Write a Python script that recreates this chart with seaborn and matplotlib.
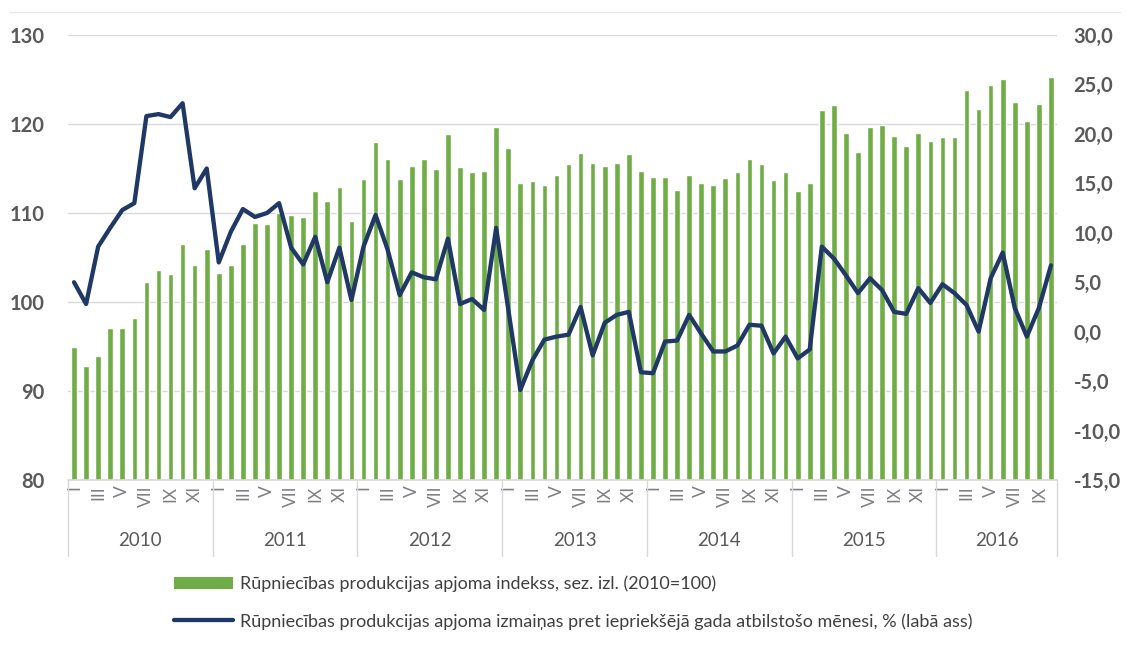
import matplotlib
matplotlib.use('Agg')
import matplotlib.pyplot as plt
from matplotlib.lines import Line2D
from matplotlib.patches import Patch
import matplotlib.transforms as mtransforms
import numpy as np
import pandas as pd
import seaborn as sns

# Data: monthly, Jan 2010 - Oct 2016
years = ['2010', '2011', '2012', '2013', '2014', '2015', '2016']
months_per_year = [12, 12, 12, 12, 12, 12, 10]
roman = ['I', '', 'III', '', 'V', '', 'VII', '', 'IX', '', 'XI', '']

index_values = [
    94.9, 92.8, 93.9, 97.1, 97.1, 98.2, 102.2, 103.6, 103.2, 106.5, 104.2, 106.0,   # 2010
    103.3, 104.2, 106.5, 108.9, 108.8, 110.0, 109.8, 109.6, 112.5, 111.3, 112.9, 109.1,  # 2011
    113.8, 118.0, 116.1, 113.8, 115.3, 116.1, 114.9, 118.9, 115.2, 114.6, 114.7, 119.7,  # 2012
    117.3, 113.4, 113.6, 113.2, 114.3, 115.5, 116.7, 115.6, 115.3, 115.6, 116.6, 114.7,  # 2013
    114.0, 114.0, 112.6, 114.3, 113.4, 113.1, 113.9, 114.6, 116.1, 115.5, 113.7, 114.6,  # 2014
    112.5, 113.4, 121.6, 122.1, 119.0, 116.9, 119.7, 119.9, 118.7, 117.5, 119.0, 118.1,  # 2015
    118.5, 118.5, 123.8, 121.7, 124.4, 125.1, 122.5, 120.3, 122.2, 125.3,                # 2016
]

yoy_change = [
    5.0, 2.8, 8.6, 10.5, 12.3, 13.0, 21.8, 22.0, 21.7, 23.1, 14.5, 16.5,   # 2010
    7.0, 10.1, 12.4, 11.6, 12.0, 13.0, 8.5, 6.8, 9.6, 5.0, 8.5, 3.2,       # 2011
    8.6, 11.8, 8.3, 3.7, 6.0, 5.5, 5.3, 9.4, 2.8, 3.3, 2.2, 10.5,          # 2012
    2.3, -5.9, -2.9, -0.8, -0.5, -0.3, 2.5, -2.4, 0.9, 1.7, 2.0, -4.1,     # 2013
    -4.2, -1.0, -0.9, 1.7, -0.2, -2.0, -2.0, -1.4, 0.7, 0.6, -2.2, -0.5,   # 2014
    -2.7, -1.8, 8.6, 7.4, 5.7, 3.9, 5.4, 4.2, 2.0, 1.8, 4.4, 2.9,          # 2015
    4.8, 3.9, 2.7, 0.0, 5.4, 8.0, 2.4, -0.5, 2.4, 6.7,                     # 2016
]

label_bar = 'Rūpniecības produkcijas apjoma indekss, sez. izl. (2010=100)'
label_line = 'Rūpniecības produkcijas apjoma izmaiņas pret iepriekšējā gada atbilstošo mēnesi, % (labā ass)'

sns.set_theme(style='white')
plt.rcParams['font.family'] = ['Lato', 'DejaVu Sans']

green = '#70AD47'
navy = '#1F3864'
txt = '#595959'

n = len(index_values)
month_labels = []
for cnt in months_per_year:
    month_labels += roman[:cnt]
df = pd.DataFrame({'pos': np.arange(n), 'index': index_values, 'yoy': yoy_change})

fig = plt.figure(figsize=(11.26, 6.47), dpi=100)
ax = fig.add_axes([0.0604, 0.2581, 0.8783, 0.6878])

sns.barplot(data=df, x='pos', y='index', color=green, width=0.47, ax=ax,
            saturation=1, native_scale=True)
ax.set_xlim(-0.5, n - 0.5)
ax.set_ylim(80, 130)
ax.set_yticks(range(80, 131, 10))
ax.yaxis.grid(True, color='#d9d9d9', linewidth=1)
ax.set_axisbelow(True)
for s in ['top', 'right', 'left']:
    ax.spines[s].set_visible(False)
ax.spines['bottom'].set_color('#d9d9d9')
ax.set_xlabel('')
ax.set_ylabel('')
ax.set_xticks(np.arange(n))
ax.set_xticklabels(month_labels, rotation=90, fontsize=12.5, color='#7f7f7f', va='top')
ax.tick_params(axis='x', length=0, pad=4)
ax.tick_params(axis='y', length=0, pad=17, labelsize=14.5, labelcolor=txt)
for lbl in ax.get_yticklabels():
    lbl.set_fontweight('bold')

ax2 = ax.twinx()
sns.lineplot(data=df, x='pos', y='yoy', color=navy, linewidth=3.1, ax=ax2)
ax2.set_ylim(-15, 30)
ax2.set_yticks(range(-15, 31, 5))
ax2.set_yticklabels([f'{v:.1f}'.replace('.', ',') for v in range(-15, 31, 5)])
ax2.tick_params(axis='y', length=0, pad=12, labelsize=14.5, labelcolor=txt)
for lbl in ax2.get_yticklabels():
    lbl.set_fontweight('bold')
for s in ax2.spines.values():
    s.set_visible(False)
ax2.set_xlabel('')
ax2.set_ylabel('')
ax2.grid(False)
ax2.set_xlim(-0.5, n - 0.5)

# year groups under the month labels
trans = mtransforms.blended_transform_factory(ax.transData, ax.transAxes)
edges = np.concatenate([[0], np.cumsum(months_per_year)]) - 0.5
for e in edges:
    ax.plot([e, e], [0, -0.17], transform=trans, color='#d9d9d9',
            linewidth=1, clip_on=False)
for i, yr in enumerate(years):
    mid = (edges[i] + edges[i + 1]) / 2
    ax.text(mid, -0.135, yr, transform=trans, ha='center', va='center',
            fontsize=13.5, color=txt)

# faint top border
fig.add_artist(Line2D([0.009, 0.995], [0.981, 0.981], color='#e6e6e6', linewidth=1))

handles = [Patch(facecolor=green, edgecolor='none'),
           Line2D([0], [0], color=navy, linewidth=3.1)]
fig.legend(handles, [label_bar, label_line], loc='upper left',
           bbox_to_anchor=(0.140, 0.135), frameon=False, fontsize=13,
           handlelength=3.3, labelspacing=1.15, labelcolor='#404040',
           handletextpad=0.35)

fig.savefig('out.png', dpi=100)
